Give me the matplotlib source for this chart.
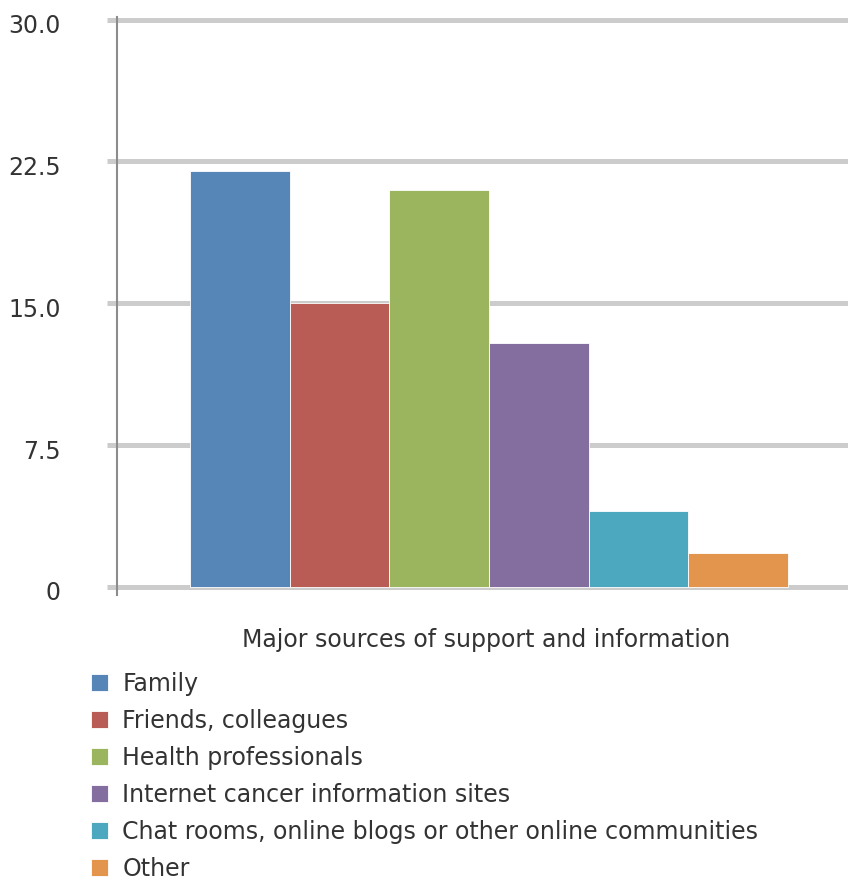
import numpy as np
import matplotlib
matplotlib.use("Agg")
import matplotlib.pyplot as plt
import matplotlib.transforms as mtransforms

# data
labels = ["Family", "Friends, colleagues", "Health professionals",
          "Internet cancer information sites",
          "Chat rooms, online blogs or other online communities", "Other"]
values = [22.0, 15.0, 21.0, 12.9, 4.0, 1.8]
colors = ["#5686b8", "#b95c55", "#9bb55e", "#846ea0", "#4ba8bf", "#e3954e"]
yticks = [0, 7.5, 15.0, 22.5, 30.0]
ytick_labels = ["0", "7.5", "15.0", "22.5", "30.0"]

W, H = 848, 881
fig = plt.figure(figsize=(W / 100, H / 100), dpi=100)

# axes: left spine at x=117, zero line at y=587, top line at y=19.5
ax_bottom = 595
ax = fig.add_axes([117 / W, 1 - ax_bottom / H, 1 - 117 / W, (ax_bottom - 17) / H])

x = np.arange(len(values))
for i in range(len(values)):
    ax.bar(x[i], values[i], width=1.0, color=colors[i], edgecolor="#ffffff",
           linewidth=0.6, zorder=3, label=labels[i])

px = 30.0 / (587 - 19.5)
ax.set_ylim(-(ax_bottom - 587) * px, 30.0 + (19.5 - 17) * px)
ax.set_xlim(-0.5 - 0.73, 5.5 + 0.6)

ax.set_yticks(yticks)
ax.set_yticklabels(ytick_labels)
ax.set_xticks([])
ax.yaxis.grid(True, color="#cccccc", linewidth=3.6, zorder=0)
ax.set_axisbelow(True)
ax.tick_params(axis="y", length=7.5, width=3.6, color="#cccccc", pad=33,
               labelsize=17, labelcolor="#333333")
for lab in ax.get_yticklabels():
    lab.set_horizontalalignment("right")
    lab.set_transform(lab.get_transform() + mtransforms.ScaledTranslation(0, -4 / 100, fig.dpi_scale_trans))

for s in ["top", "right", "bottom"]:
    ax.spines[s].set_visible(False)
ax.spines["left"].set_color("#8c8c8c")
ax.spines["left"].set_linewidth(1.5)
ax.spines["left"].set_zorder(4)

fig.text(486 / W, 1 - 640 / H, "Major sources of support and information",
         ha="center", va="center", fontsize=17, color="#333333")

fig.legend(loc="upper left", bbox_to_anchor=(91 / W, 1 - 672 / H),
           frameon=False, fontsize=17, handlelength=0.72, handleheight=0.72,
           handletextpad=0.6, labelspacing=0.55, borderpad=0, borderaxespad=0,
           labelcolor="#333333")

fig.savefig("out.png", dpi=100)
